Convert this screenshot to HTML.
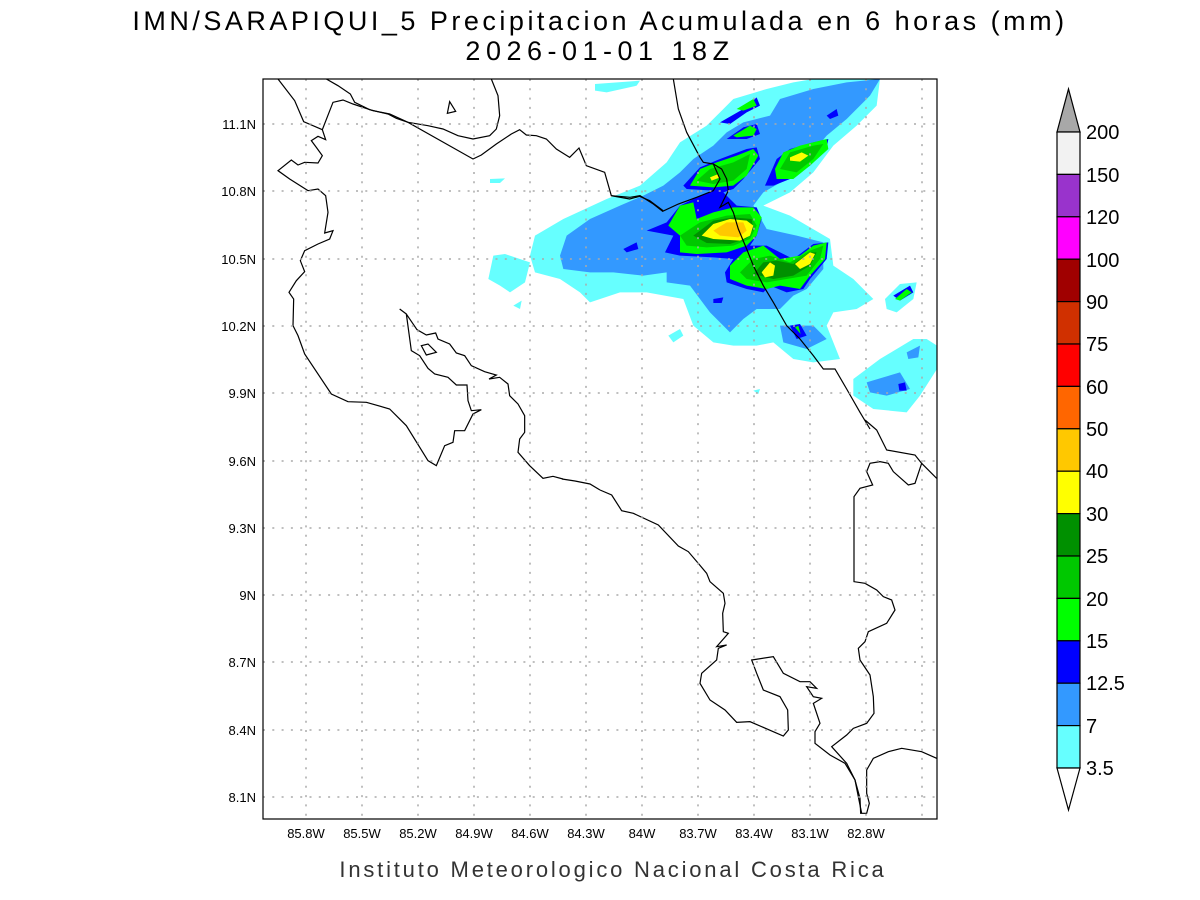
<!DOCTYPE html>
<html><head><meta charset="utf-8"><style>
html,body{margin:0;padding:0;background:#fff;}
svg{display:block;font-family:"Liberation Sans",sans-serif;}
</style></head><body>
<svg width="1200" height="900" viewBox="0 0 1200 900" xmlns="http://www.w3.org/2000/svg">
<rect width="1200" height="900" fill="#fff"/>
<text x="600" y="30" font-size="27" text-anchor="middle" fill="#000" letter-spacing="3.5">IMN/SARAPIQUI_5 Precipitacion Acumulada en 6 horas (mm)</text>
<text x="600" y="60" font-size="27" text-anchor="middle" fill="#000" letter-spacing="5.5">2026-01-01 18Z</text>

<defs><clipPath id="c"><rect x="263" y="79" width="674" height="740"/></clipPath></defs>
<g clip-path="url(#c)">
<g transform="translate(480,79) scale(0.33333)" stroke="none">
<g fill="#66ffff">
<polygon points="165,470 250,420 380,360 480,320 560,250 600,190 680,140 720,100 760,60 860,30 940,10 1000,0 1200,0 1190,80 1130,140 1060,200 1000,280 930,340 850,380 930,410 1050,480 1060,560 1120,600 1180,660 1130,690 1060,700 1040,740 1080,840 1000,850 940,840 880,790 830,800 760,800 700,790 640,740 610,660 500,640 420,640 330,670 300,640 240,600 165,580 150,530"/>
<polygon points="40,530 75,525 150,550 135,610 90,640 60,620 25,600"/>
<polygon points="1120,900 1200,840 1300,780 1340,780 1371,800 1371,870 1320,950 1280,1000 1180,990 1120,950"/>
<polygon points="345,15 480,5 470,20 380,40 345,35"/>
<polygon points="30,300 75,298 60,312 30,312"/>
<polygon points="1215,660 1260,615 1310,610 1300,660 1250,700 1220,690"/>
<polygon points="565,770 600,750 610,770 580,790"/>
<polygon points="100,680 125,665 120,690"/>
<polygon points="820,935 840,930 835,945"/>
</g>
<g fill="#3399ff">
<polygon points="260,470 330,420 420,380 490,350 550,320 600,280 640,240 700,200 740,160 790,130 870,110 900,60 1000,30 1100,10 1200,0 1170,50 1100,120 1040,170 990,230 920,300 850,340 820,380 860,450 950,470 1030,490 1030,570 980,630 940,650 900,690 830,690 790,720 750,760 690,700 660,660 630,620 560,610 560,580 490,590 400,580 330,580 250,570 240,530"/>
<polygon points="1160,910 1260,880 1290,930 1220,950 1170,940"/>
<polygon points="900,740 1000,740 1040,780 980,810 910,790"/>
<polygon points="1280,820 1320,800 1315,835 1285,840"/>
</g>
<g fill="#0000ff">
<polygon points="500,455 560,430 600,380 640,360 700,335 620,330 610,320 660,265 720,240 800,210 830,205 840,240 790,300 760,330 730,340 770,380 830,385 845,420 830,470 810,500 860,500 940,540 1000,495 1045,490 1040,540 990,600 970,630 920,640 870,620 850,640 800,630 740,610 735,580 760,540 700,535 600,530 555,520 580,470"/>
<polygon points="720,130 790,90 830,55 840,80 800,100 750,135"/>
<polygon points="740,180 790,145 830,135 840,165 800,180"/>
<polygon points="855,320 890,240 930,210 1000,190 1045,180 1040,210 990,260 930,300 880,320"/>
<polygon points="1040,110 1070,90 1075,110 1050,120"/>
<polygon points="930,740 960,735 980,770 950,780"/>
<polygon points="430,510 470,490 475,510 440,520"/>
<polygon points="1240,650 1290,620 1300,640 1260,665"/>
<polygon points="1255,915 1275,910 1280,935 1258,935"/>
<polygon points="700,660 730,655 725,672 700,672"/>
</g>
<g fill="#00ff00">
<polygon points="565,440 600,380 640,370 650,420 700,400 760,385 820,385 845,415 830,470 800,500 740,520 650,525 600,520 600,470"/>
<polygon points="750,560 790,520 850,500 900,540 960,530 1000,500 1040,490 1035,540 990,590 960,630 900,620 860,630 800,620 750,600"/>
<polygon points="630,320 660,270 710,250 770,230 820,210 835,230 800,290 760,320 700,325"/>
<polygon points="885,270 910,220 960,200 1040,180 1045,210 990,260 940,300 890,300"/>
<polygon points="770,90 820,60 830,80 790,95"/>
<polygon points="760,170 810,140 830,150 820,170 770,175"/>
<polygon points="1245,660 1280,630 1295,640 1260,665"/>
<polygon points="945,745 955,740 962,765"/>
</g>
<g fill="#00c800">
<polygon points="600,470 660,430 740,410 810,405 830,440 810,480 760,500 680,505 620,500"/>
<polygon points="780,580 820,540 870,530 930,550 990,515 1030,500 1020,540 980,590 920,600 860,610 800,600"/>
<polygon points="650,305 690,270 760,250 810,225 800,270 760,305 700,315"/>
<polygon points="900,270 930,220 1000,200 1030,195 1000,240 950,280"/>
</g>
<g fill="#009000">
<polygon points="640,470 700,425 760,415 815,420 820,450 800,478 750,495 680,492"/>
<polygon points="820,585 850,550 890,545 940,555 990,520 1010,520 990,560 940,590 880,600"/>
</g>
<g fill="#ffff00">
<polygon points="665,470 700,435 750,420 800,425 820,440 810,470 780,485 700,480"/>
<polygon points="845,580 870,550 885,560 880,590 855,595"/>
<polygon points="945,555 990,520 1005,525 990,555 960,570"/>
<polygon points="930,235 965,220 985,230 960,248 930,245"/>
<polygon points="690,295 715,285 720,295 695,305"/>
</g>
<polygon fill="#ffc800" points="700,455 740,430 790,430 800,455 775,475 720,470"/>
</g>

<g fill="none" stroke="#000" stroke-width="1.2">
<polyline points="562,479 575,481 590,484 600,490"/>
<g transform="translate(263,79) scale(0.33333)">
<polyline vector-effect="non-scaling-stroke" points="45,0 95,65 122,128 178,152 210,70 240,63 270,75 330,95 380,105 435,130 495,140 540,150 585,170 630,180 680,170 700,150 710,110 705,50 685,0"/>
<polyline vector-effect="non-scaling-stroke" points="190,0 225,20 262,45 275,70 320,92 375,105 400,118 435,130 630,240 655,228 700,195 745,165 770,152 790,168 820,170 850,180 880,210 920,235 948,207 970,260 1025,280 1045,350 1100,360 1130,352 1160,365 1200,395"/>
<polyline vector-effect="non-scaling-stroke" points="178,152 188,182 165,172 145,185 160,205 178,230 165,252 125,250 105,258 85,243 45,275 80,300 135,335 165,330 188,350 195,400 185,462 210,455 200,480 165,495 125,515 112,545 125,578 100,605 78,640 92,660 90,740 105,770 125,825 205,945 255,968 310,970 380,990 430,1040 495,1145 520,1160 545,1100 570,1090 575,1055 605,1055 630,1005 655,992 625,995 615,965 612,918 580,918 555,895 515,885 495,868 470,830 445,815 430,705 410,690 430,705 462,752 490,768 518,762 525,780 560,795 580,822 605,830 625,860 665,878 700,888 678,900 710,895 735,915 740,950 765,975 785,1010 785,1060 770,1080 765,1120 800,1160 840,1198 870,1192 900,1200"/>
<polygon vector-effect="non-scaling-stroke" points="553,103 560,68 578,97"/>
<polygon vector-effect="non-scaling-stroke" points="475,800 495,795 520,820 490,828"/>
</g>
<g transform="translate(480,79) scale(0.33333)">
<polyline vector-effect="non-scaling-stroke" points="395,350 450,355 480,350 520,375 548,397 595,375 650,355 700,335 720,300 700,255"/>
<polyline vector-effect="non-scaling-stroke" points="580,0 595,90 620,160 660,235 670,250 700,255 725,270 740,300 745,335 720,385 745,370 760,400 775,450 800,510 820,560 850,620 880,670 920,740 960,780 1000,830 1030,870 1065,870 1100,930 1140,1000 1170,1050"/>
</g>
<g transform="translate(600,420) scale(0.33333)">
<polyline vector-effect="non-scaling-stroke" points="795,0 830,30 860,90 945,105 965,130 1010,175"/>
<polyline vector-effect="non-scaling-stroke" points="965,130 960,145 945,190 925,195 880,155 865,130 840,125 810,130 800,155 818,195 780,205 762,230 762,485 795,490 830,510 850,530 875,540 885,570 860,610 805,635 795,665 775,685 780,720 810,765 820,830 822,880 800,910 760,925 740,945 695,980 740,1030 765,1080 780,1135 782,1180 800,1180 808,1150 800,1120 800,1050 820,1015 865,995 905,985 965,995 1010,1015"/>
<polyline vector-effect="non-scaling-stroke" points="0,210 35,225 65,272 100,280 175,315 235,378 265,395 295,430 320,460 330,485 370,520 375,550 368,580 370,635 385,640 350,680 380,675 355,685 350,720 305,760 300,790 330,840 375,870 410,907 450,905 550,948 565,930 563,870 540,830 490,810 470,760 455,720 520,710 550,760 600,785 630,785 650,805 620,800 640,830 665,835 640,850 660,910 645,935 645,970 690,1005 735,1030 765,1080 785,1180"/>
</g>
</g>

<g stroke="#aaa" stroke-width="1.5" stroke-dasharray="2,7.3">
<line x1="306" y1="79" x2="306" y2="819"/><line x1="362" y1="79" x2="362" y2="819"/><line x1="418" y1="79" x2="418" y2="819"/><line x1="474" y1="79" x2="474" y2="819"/><line x1="530" y1="79" x2="530" y2="819"/><line x1="586" y1="79" x2="586" y2="819"/><line x1="642" y1="79" x2="642" y2="819"/><line x1="698" y1="79" x2="698" y2="819"/><line x1="754" y1="79" x2="754" y2="819"/><line x1="810" y1="79" x2="810" y2="819"/><line x1="866" y1="79" x2="866" y2="819"/><line x1="922" y1="79" x2="922" y2="819"/>
<line x1="263" y1="124" x2="937" y2="124"/><line x1="263" y1="191" x2="937" y2="191"/><line x1="263" y1="259" x2="937" y2="259"/><line x1="263" y1="326" x2="937" y2="326"/><line x1="263" y1="393" x2="937" y2="393"/><line x1="263" y1="461" x2="937" y2="461"/><line x1="263" y1="528" x2="937" y2="528"/><line x1="263" y1="595" x2="937" y2="595"/><line x1="263" y1="662" x2="937" y2="662"/><line x1="263" y1="730" x2="937" y2="730"/><line x1="263" y1="797" x2="937" y2="797"/>
</g>
</g>
<rect x="263" y="79" width="674" height="740" fill="none" stroke="#000" stroke-width="1.2"/>

<g font-size="13" fill="#000" text-anchor="end">
<text x="256" y="129">11.1N</text><text x="256" y="196">10.8N</text><text x="256" y="264">10.5N</text><text x="256" y="331">10.2N</text><text x="256" y="398">9.9N</text><text x="256" y="466">9.6N</text><text x="256" y="533">9.3N</text><text x="256" y="600">9N</text><text x="256" y="667">8.7N</text><text x="256" y="735">8.4N</text><text x="256" y="802">8.1N</text>
</g>
<g font-size="13" fill="#000" text-anchor="middle">
<text x="306" y="838">85.8W</text><text x="362" y="838">85.5W</text><text x="418" y="838">85.2W</text><text x="474" y="838">84.9W</text><text x="530" y="838">84.6W</text><text x="586" y="838">84.3W</text><text x="642" y="838">84W</text><text x="698" y="838">83.7W</text><text x="754" y="838">83.4W</text><text x="810" y="838">83.1W</text><text x="866" y="838">82.8W</text>
</g>
<text x="613" y="877" font-size="22" text-anchor="middle" fill="#333" letter-spacing="2.8">Instituto Meteorologico Nacional Costa Rica</text>

<g stroke="#000" stroke-width="1.2">
<polygon points="1057,132 1080,132 1068.5,89" fill="#a8a8a8"/>
<rect x="1057" y="132" width="23" height="42.4" fill="#f2f2f2"/>
<rect x="1057" y="174.4" width="23" height="42.4" fill="#9933cc"/>
<rect x="1057" y="216.8" width="23" height="42.4" fill="#ff00ff"/>
<rect x="1057" y="259.2" width="23" height="42.4" fill="#a00000"/>
<rect x="1057" y="301.6" width="23" height="42.4" fill="#d03000"/>
<rect x="1057" y="344" width="23" height="42.4" fill="#ff0000"/>
<rect x="1057" y="386.4" width="23" height="42.4" fill="#ff6600"/>
<rect x="1057" y="428.8" width="23" height="42.4" fill="#ffc800"/>
<rect x="1057" y="471.2" width="23" height="42.4" fill="#ffff00"/>
<rect x="1057" y="513.6" width="23" height="42.4" fill="#009000"/>
<rect x="1057" y="556" width="23" height="42.4" fill="#00c800"/>
<rect x="1057" y="598.4" width="23" height="42.4" fill="#00ff00"/>
<rect x="1057" y="640.8" width="23" height="42.4" fill="#0000ff"/>
<rect x="1057" y="683.2" width="23" height="42.4" fill="#3399ff"/>
<rect x="1057" y="725.6" width="23" height="42.4" fill="#66ffff"/>
<polygon points="1057,768 1080,768 1068.5,810" fill="#fff"/>
</g>
<g font-size="20" fill="#000">
<text x="1086" y="139">200</text><text x="1086" y="182">150</text><text x="1086" y="224">120</text><text x="1086" y="267">100</text><text x="1086" y="309">90</text><text x="1086" y="351">75</text><text x="1086" y="394">60</text><text x="1086" y="436">50</text><text x="1086" y="478">40</text><text x="1086" y="521">30</text><text x="1086" y="563">25</text><text x="1086" y="606">20</text><text x="1086" y="648">15</text><text x="1086" y="690">12.5</text><text x="1086" y="733">7</text><text x="1086" y="775">3.5</text>
</g>
</svg>
</body></html>
